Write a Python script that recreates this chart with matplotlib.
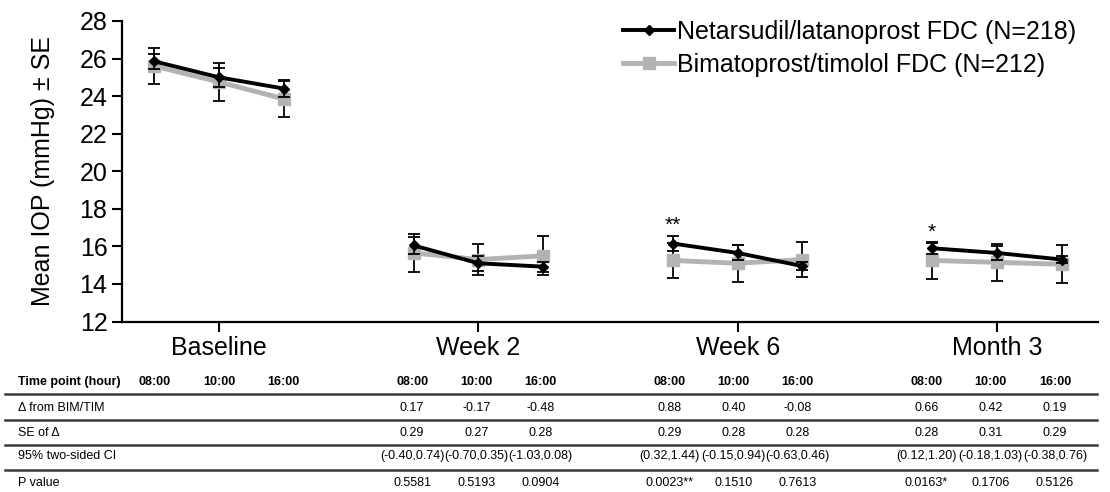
import matplotlib
matplotlib.use("Agg")
import matplotlib.pyplot as plt
import matplotlib.transforms as mtransforms
import numpy as np

plt.rcParams['font.family'] = ['Liberation Sans', 'DejaVu Sans']

groups = ["Baseline", "Week 2", "Week 6", "Month 3"]
times = ["08:00", "10:00", "16:00"]

net_label = "Netarsudil/latanoprost FDC (N=218)"
bim_label = "Bimatoprost/timolol FDC (N=212)"

# mean IOP per group and hour (08:00, 10:00, 16:00)
net_mean = [25.85, 25.0, 24.4, 16.05, 15.1, 14.92, 16.15, 15.65, 14.95, 15.9, 15.65, 15.3]
net_se = [0.38, 0.5, 0.45, 0.45, 0.4, 0.27, 0.4, 0.4, 0.22, 0.3, 0.35, 0.2]
bim_mean = [25.6, 24.75, 23.85, 15.65, 15.3, 15.5, 15.25, 15.1, 15.3, 15.25, 15.15, 15.05]
bim_se = [0.97, 1.0, 0.97, 1.0, 0.85, 1.05, 0.92, 0.98, 0.95, 1.0, 1.0, 1.0]
stars = ["", "", "", "", "", "", "**", "", "", "*", "", ""]

row_labels = ["Time point (hour)", "\u0394 from BIM/TIM", "SE of \u0394",
              "95% two-sided CI", "P value"]
delta = ["0.17", "-0.17", "-0.48", "0.88", "0.40", "-0.08", "0.66", "0.42", "0.19"]
se_delta = ["0.29", "0.27", "0.28", "0.29", "0.28", "0.28", "0.28", "0.31", "0.29"]
ci = ["(-0.40,0.74)", "(-0.70,0.35)", "(-1.03,0.08)",
      "(0.32,1.44)", "(-0.15,0.94)", "(-0.63,0.46)",
      "(0.12,1.20)", "(-0.18,1.03)", "(-0.38,0.76)"]
pval = ["0.5581", "0.5193", "0.0904", "0.0023**", "0.1510", "0.7613",
        "0.0163*", "0.1706", "0.5126"]

W, H = 1110, 492
fig = plt.figure(figsize=(W / 100, H / 100), dpi=100)
ax = fig.add_axes([122 / W, 1 - 321.5 / H, 976 / W, 300.5 / H])

gray = "#b3b3b3"
xs = np.array([g * 4 + k for g in range(len(groups)) for k in (-1, 0, 1)])
net_mean = np.array(net_mean)
bim_mean = np.array(bim_mean)

for g in range(len(groups)):
    sl = slice(g * 3, g * 3 + 3)
    ax.errorbar(xs[sl], bim_mean[sl], yerr=bim_se[sl], fmt='none', ecolor='black',
                elinewidth=1.3, capsize=4.5, capthick=1.3, zorder=2)
    ax.plot(xs[sl], bim_mean[sl], color=gray, lw=3.5, marker='s', ms=8,
            label=bim_label if g == 0 else None, zorder=3)
    ax.errorbar(xs[sl], net_mean[sl], yerr=net_se[sl], fmt='none', ecolor='black',
                elinewidth=1.3, capsize=4.5, capthick=1.3, zorder=4)
    ax.plot(xs[sl], net_mean[sl], color='black', lw=2.8, marker='D', ms=5.5,
            label=net_label if g == 0 else None, zorder=5)

for x, m, s, st in zip(xs, net_mean, net_se, stars):
    if st:
        ax.text(x, m + s + 0.05, st, ha='center', va='bottom', fontsize=15)

ax.set_xlim(-1.5, 13.56)
ax.set_ylim(12, 28)
ax.set_yticks(np.arange(12, 29, 2))
ax.set_xticks([g * 4 for g in range(len(groups))])
ax.set_xticklabels(groups)
ax.tick_params(axis='both', labelsize=18, width=1.5, length=7, pad=3.5, direction='out')
for side in ('top', 'right'):
    ax.spines[side].set_visible(False)
for side in ('left', 'bottom'):
    ax.spines[side].set_linewidth(1.6)

fig.text(43 / W, 1 - 171 / H, "Mean IOP (mmHg) \u00b1 SE", rotation=90,
         ha='center', va='center', fontsize=18)

h, l = ax.get_legend_handles_labels()
order = [l.index(net_label), l.index(bim_label)]
ax.legend([h[i] for i in order], [l[i] for i in order], loc='upper left',
          bbox_to_anchor=(623 / W, 1 - 20 / H), bbox_transform=fig.transFigure,
          frameon=False, fontsize=18, handlelength=2.05, handletextpad=0.12,
          labelspacing=0.35, borderpad=0, borderaxespad=0)

# table under the chart
trans = mtransforms.blended_transform_factory(ax.transData, fig.transFigure)
row_y = [382, 408, 433, 456, 483]
line_y = [394, 420, 445, 470]
for lab, y in zip(row_labels, row_y):
    fig.text(18 / W, 1 - y / H, lab, ha='left', va='center', fontsize=9,
             fontweight='bold' if lab.startswith("Time") else 'normal')
for x, i in zip(xs, range(len(xs))):
    fig.text(x * 0.992, 1 - row_y[0] / H, times[i % 3], transform=trans,
             ha='center', va='center', fontsize=9, fontweight='bold')
rows = [delta, se_delta, ci, pval]
for r, vals in enumerate(rows):
    for j, v in enumerate(vals):
        x = xs[j + 3] * 0.992
        fig.text(x, 1 - row_y[r + 1] / H, v, transform=trans,
                 ha='center', va='center', fontsize=9)
for y in line_y:
    fig.add_artist(plt.Line2D([5 / W, 1097 / W], [1 - y / H, 1 - y / H],
                              transform=fig.transFigure, color='#3a3a3a', lw=1.8))

fig.savefig("out.png", dpi=100)
